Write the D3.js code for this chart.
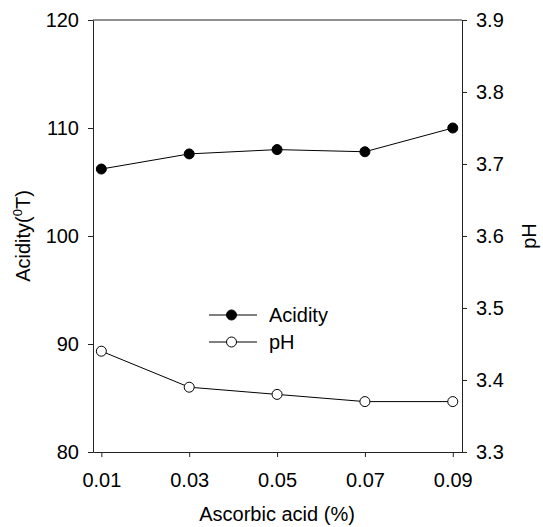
<!DOCTYPE html>
<html>
<head>
<meta charset="utf-8">
<script src="https://cdn.jsdelivr.net/npm/d3@7"></script>
<style>
body { margin: 0; background: #fff; }
text { font-family: Arial, "Liberation Sans", sans-serif; fill: #000; }
.axis path, .axis line { stroke: #222; }
.axis text { font-size: 20px; font-family: Arial, "Liberation Sans", sans-serif; }
</style>
</head>
<body>
<svg width="543" height="527"></svg>
<script>
// data
var ascorbic = [0.01, 0.03, 0.05, 0.07, 0.09];
var acidity = [106.2, 107.6, 108.0, 107.8, 110.0];
var ph = [3.44, 3.39, 3.38, 3.37, 3.37];
var xTicks = [0.01, 0.03, 0.05, 0.07, 0.09];
var leftTicks = [80, 90, 100, 110, 120];
var rightTicks = [3.3, 3.4, 3.5, 3.6, 3.7, 3.8, 3.9];

var svg = d3.select("svg"),
    margin = { top: 20, right: 81, bottom: 75, left: 93 },
    width = +svg.attr("width") - margin.left - margin.right,
    height = +svg.attr("height") - margin.top - margin.bottom;

var x = d3.scaleLinear().domain([0.0081, 0.0921]).range([0, width]),
    yL = d3.scaleLinear().domain([80, 120]).range([height, 0]),
    yR = d3.scaleLinear().domain([3.3, 3.9]).range([height, 0]);

var g = svg.append("g")
    .attr("transform", "translate(" + margin.left + "," + margin.top + ")");

// bovenrand
g.append("line")
    .attr("x1", 0).attr("x2", width)
    .attr("y1", 0).attr("y2", 0)
    .attr("stroke", "#222");

g.append("g")
    .attr("class", "axis")
    .attr("transform", "translate(0," + height + ")")
    .call(d3.axisBottom(x).tickValues(xTicks).tickSize(5).tickPadding(16).tickSizeOuter(0)
        .tickFormat(d3.format(".2f")));

g.append("g")
    .attr("class", "axis")
    .call(d3.axisLeft(yL).tickValues(leftTicks).tickSize(5).tickPadding(9).tickSizeOuter(0));

g.append("g")
    .attr("class", "axis")
    .attr("transform", "translate(" + width + ",0)")
    .call(d3.axisRight(yR).tickValues(rightTicks).tickSize(5).tickPadding(9).tickSizeOuter(0)
        .tickFormat(d3.format(".1f")));

g.selectAll(".domain").attr("stroke", "#222");

var lineA = d3.line()
    .x(function (d, i) { return x(ascorbic[i]); })
    .y(function (d) { return yL(d); });
var lineP = d3.line()
    .x(function (d, i) { return x(ascorbic[i]); })
    .y(function (d) { return yR(d); });

g.append("path").datum(acidity)
    .attr("d", lineA).attr("fill", "none").attr("stroke", "#000").attr("stroke-width", 1);
g.append("path").datum(ph)
    .attr("d", lineP).attr("fill", "none").attr("stroke", "#000").attr("stroke-width", 1);

g.selectAll(".dotA").data(acidity).enter().append("circle")
    .attr("cx", function (d, i) { return x(ascorbic[i]); })
    .attr("cy", function (d) { return yL(d); })
    .attr("r", 5).attr("fill", "#000").attr("stroke", "#000");

g.selectAll(".dotP").data(ph).enter().append("circle")
    .attr("cx", function (d, i) { return x(ascorbic[i]); })
    .attr("cy", function (d) { return yR(d); })
    .attr("r", 5).attr("fill", "#fff").attr("stroke", "#000");

// legenda
var legend = [{ name: "Acidity", fill: "#000" }, { name: "pH", fill: "#fff" }];
var lg = svg.append("g").attr("transform", "translate(209,315)");
legend.forEach(function (d, i) {
    var row = lg.append("g").attr("transform", "translate(0," + (i * 27) + ")");
    row.append("line").attr("x1", 0).attr("x2", 48).attr("y1", 0).attr("y2", 0).attr("stroke", "#000");
    row.append("circle").attr("cx", 22.5).attr("cy", 0).attr("r", 5).attr("fill", d.fill).attr("stroke", "#000");
    row.append("text").attr("x", 60).attr("y", 7).attr("font-size", "20px").text(d.name);
});

// astitels
svg.append("text")
    .attr("x", margin.left + x(0.05)).attr("y", 521)
    .attr("text-anchor", "middle").attr("font-size", "20px")
    .text("Ascorbic acid (%)");

var lt = svg.append("text")
    .attr("transform", "translate(30," + (margin.top + height / 2) + ") rotate(-90)")
    .attr("text-anchor", "middle").attr("font-size", "20px");
lt.append("tspan").text("Acidity(");
lt.append("tspan").attr("font-size", "13px").attr("dy", "-8").text("0");
lt.append("tspan").attr("dy", "8").text("T)");

svg.append("text")
    .attr("transform", "translate(536," + (margin.top + height / 2) + ") rotate(-90)")
    .attr("text-anchor", "middle").attr("font-size", "20px")
    .text("pH");
</script>
</body>
</html>
